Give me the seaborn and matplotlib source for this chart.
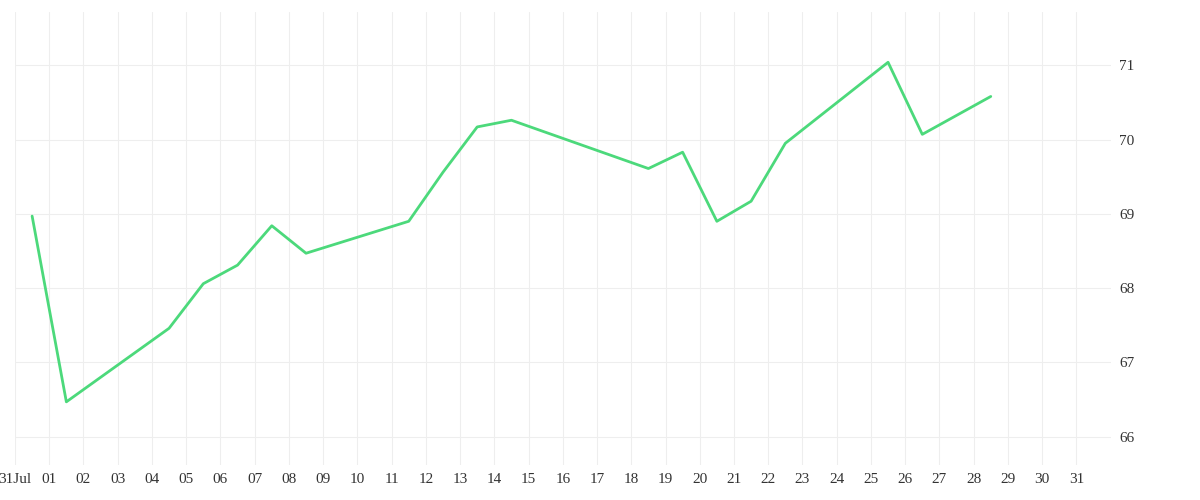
import matplotlib
matplotlib.use("Agg")
import matplotlib.pyplot as plt
import seaborn as sns
import pandas as pd

dates = ["2023-07-31","2023-08-01","2023-08-04","2023-08-05","2023-08-06","2023-08-07",
         "2023-08-08","2023-08-11","2023-08-12","2023-08-13","2023-08-14","2023-08-18",
         "2023-08-19","2023-08-20","2023-08-21","2023-08-22","2023-08-25","2023-08-26","2023-08-28"]
values = [68.97,66.47,67.46,68.06,68.31,68.84,68.47,68.90,69.56,70.17,70.26,69.61,
          69.83,68.90,69.17,69.95,71.04,70.07,70.58]

df = pd.DataFrame({"date": pd.to_datetime(dates) + pd.Timedelta(hours=12), "value": values})

sns.set_style("white")
plt.rcParams['font.family'] = ['Liberation Serif', 'DejaVu Serif']
fig = plt.figure(figsize=(12, 5), dpi=100)
ax = fig.add_axes([0.0125, 0.07, 0.913, 0.905])
sns.lineplot(data=df, x="date", y="value", ax=ax, color="#4cd97b", linewidth=2)

ax.set_xlim(pd.Timestamp("2023-07-31"), pd.Timestamp("2023-09-01"))
ax.set_ylim(65.62, 71.71)
ax.yaxis.tick_right()
ax.set_yticks([66, 67, 68, 69, 70, 71])
ticks = pd.date_range("2023-07-31", "2023-08-31", freq="D")
ax.set_xticks(ticks)
ax.set_xticklabels(["31Jul"] + [f"{d.day:02d}" for d in ticks[1:]])
ax.grid(True, color="#eeeeee", linewidth=0.8)
for s in ax.spines.values():
    s.set_visible(False)
ax.tick_params(axis="both", length=0, labelsize=11, colors="#333333", pad=6)
ax.set_xlabel("")
ax.set_ylabel("")
fig.savefig("out.png")
